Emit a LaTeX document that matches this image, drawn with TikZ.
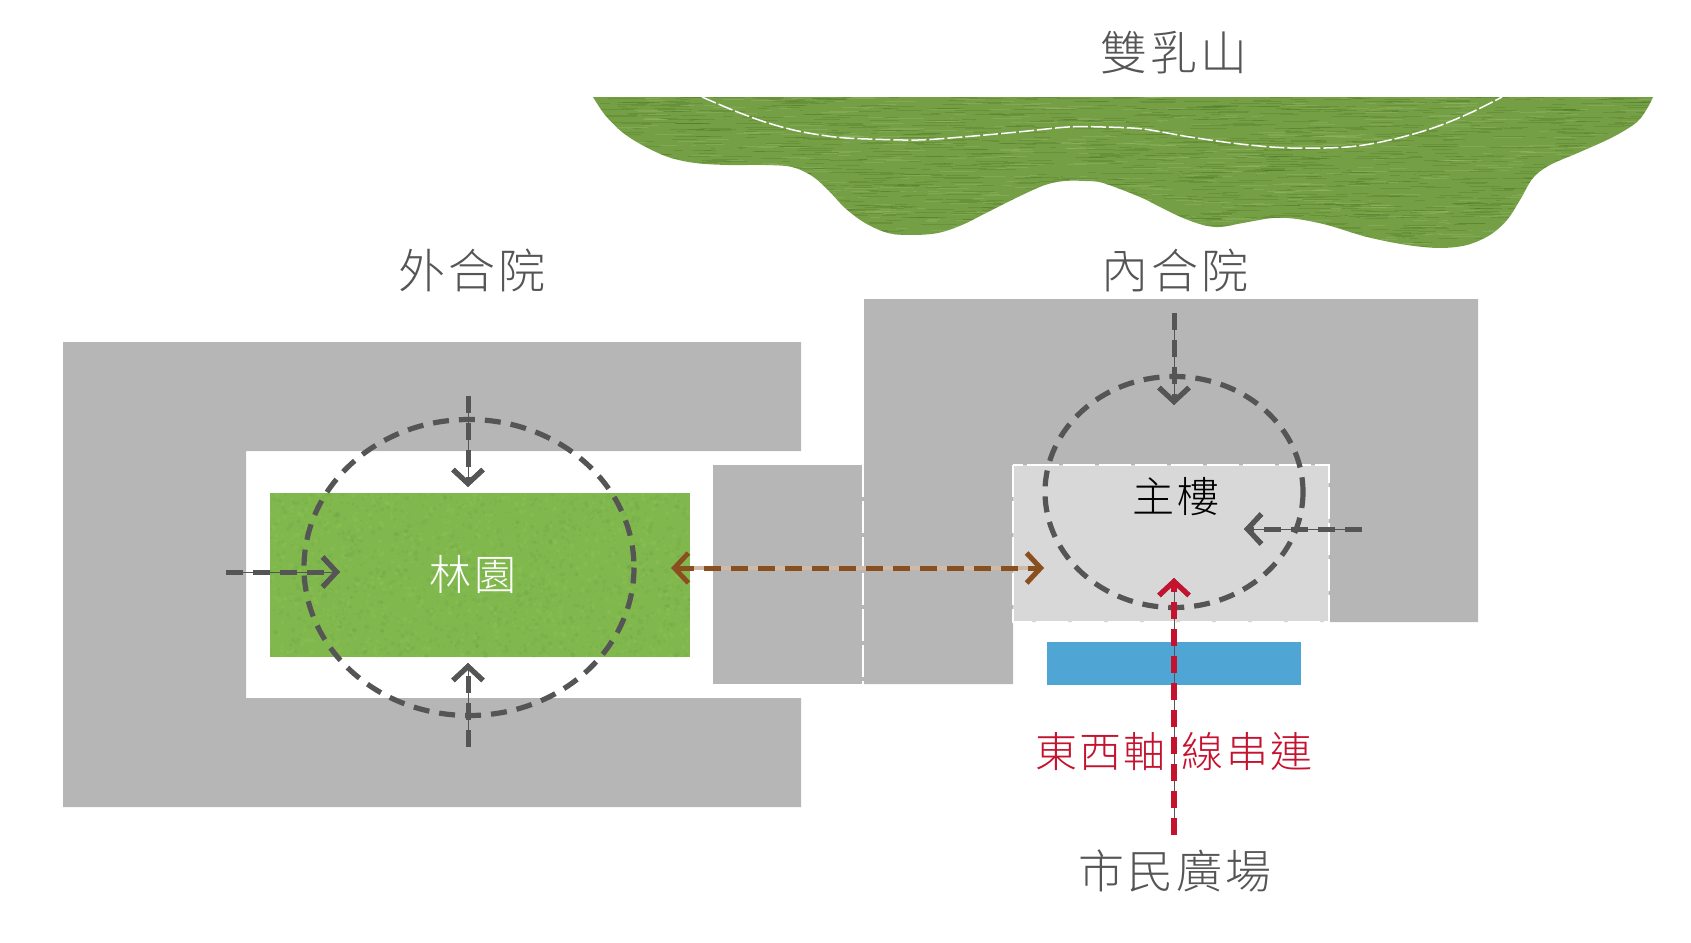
\documentclass[tikz,border=0pt]{standalone}
\usepackage{fontspec}
\setmainfont{Noto Sans CJK TC Light}
\usepackage{xcolor}
\usetikzlibrary{arrows.meta}

\definecolor{wallgray}{HTML}{B6B6B6}
\definecolor{halllight}{HTML}{D8D8D8}
\definecolor{lawngreen}{HTML}{80B84E}
\definecolor{lawndark}{HTML}{4F8F3A}
\definecolor{lawnlight}{HTML}{A9CF5C}
\definecolor{hillgreen}{HTML}{749F45}
\definecolor{hilldark}{HTML}{46711F}
\definecolor{hilllight}{HTML}{A3C27A}
\definecolor{pondblue}{HTML}{4FA5D3}
\definecolor{inkgray}{HTML}{555555}
\definecolor{axisred}{HTML}{C4122F}
\definecolor{linkbrown}{HTML}{8A4F1E}

\newcommand{\hilloutline}{(593,97) plot[smooth, tension=0.55] coordinates {(593,97) (605,115) (622,132) (642,145) (668,157) (695,163)
    (728,165) (765,165) (792,167) (812,176) (828,190) (845,208) (865,223) (888,233) (912,235)
    (938,233) (962,225) (988,212) (1018,197) (1045,185) (1065,181) (1085,181) (1103,183)
    (1140,197) (1160,207) (1183,218) (1203,225) (1220,227) (1243,223) (1273,218) (1297,219)
    (1327,225) (1367,237) (1407,245) (1440,248) (1467,245) (1490,235) (1507,220) (1520,200)
    (1533,178) (1550,165) (1580,152) (1613,137) (1637,122) (1648,107) (1653,97)} -- cycle}

\begin{document}
\begin{tikzpicture}[
  x=1pt, y=-1pt,
  label/.style={font=\fontsize{47}{55}\selectfont\addfontfeature{LetterSpace=6}, text=inkgray, inner sep=0pt},
  ring/.style={draw=inkgray, line width=5.2pt, dash pattern=on 16pt off 10pt},
  seam/.style={draw=white, line width=1.2pt, dash pattern=on 32pt off 4pt},
  barb/.style={-{Straight Barb[length=14pt,width=30pt,line width=5pt]}},
  flow/.style={line width=5pt, dash pattern=on 17pt off 10pt, barb},
  grayflow/.style={flow, draw=inkgray, preaction={draw=inkgray, solid, line width=0.8pt}},
  brownflow/.style={flow, draw=linkbrown,
                    {Straight Barb[length=14pt,width=30pt,line width=5pt]}-{Straight Barb[length=14pt,width=30pt,line width=5pt]},
                    preaction={draw=linkbrown!40!white, solid, line width=4pt}},
  redflow/.style={flow, draw=axisred, line width=6pt, preaction={draw=inkgray, solid, line width=0.8pt}}
]
\useasboundingbox (0,0) rectangle (1691,942);
\pgfmathsetseed{42}

% Hill with its streaks
\fill[hillgreen] \hilloutline;
\begin{scope}
  \clip \hilloutline;
  \foreach \i in {1,...,1500} {
    \draw[hilldark, opacity=0.28, line width=0.8pt] ({593+1060*rnd},{97+150*rnd}) -- ++({8+30*rnd},0);
  }
  \foreach \i in {1,...,700} {
    \draw[hilllight, opacity=0.28, line width=0.8pt] ({593+1060*rnd},{97+150*rnd}) -- ++({8+30*rnd},0);
  }
\end{scope}
\draw[draw=white, line width=1.5pt, dash pattern=on 15pt off 3pt]
  plot[smooth, tension=0.55] coordinates {(702,97) (735,111) (765,122) (798,131) (835,137) (868,139) (918,140) (962,137)
    (1018,132) (1068,127) (1103,127) (1143,129) (1190,137) (1240,144) (1290,148) (1347,147)
    (1390,140) (1433,128) (1470,113) (1502,97)};

% Courts and link
\fill[wallgray] (63,342) -- (801,342) -- (801,451) -- (246,451) -- (246,698) -- (801,698) -- (801,807) -- (63,807) -- cycle;
\fill[wallgray] (713,465) rectangle (864,684);
\fill[wallgray] (864,299) -- (1478,299) -- (1478,622) -- (1013,622) -- (1013,684) -- (864,684) -- cycle;
\fill[halllight] (1013,465) rectangle (1329,622);
\draw[seam] (1013,465) rectangle (1329,622);
\draw[seam] (863,465) -- (863,684);

% Lawn and pond
\fill[lawngreen] (270,493) rectangle (690,657);
\begin{scope}
  \clip (270,493) rectangle (690,657);
  \foreach \i in {1,...,1100} {
    \fill[lawndark, opacity=0.12] ({270+420*rnd},{493+164*rnd}) circle ({0.8+1.6*rnd});
    \fill[lawnlight, opacity=0.14] ({270+420*rnd},{493+164*rnd}) circle ({0.8+1.6*rnd});
  }
\end{scope}
\fill[pondblue] (1047,642) rectangle (1301,685);

% Rings
\draw[ring] (469,567.5) ellipse (165 and 148);
\draw[ring] (1174,492) ellipse (129 and 115.5);

% Ends of the arrows
\coordinate (outerNs) at (468,396);
\coordinate (outerNe) at (468,487);
\coordinate (outerSs) at (468,747);
\coordinate (outerSe) at (468,663);
\coordinate (outerWs) at (226,572);
\coordinate (outerWe) at (340,572);
\coordinate (innerNs) at (1174,313);
\coordinate (innerNe) at (1174,405);
\coordinate (innerEs) at (1362,529);
\coordinate (innerEe) at (1244,529);
\coordinate (linkW) at (671,568);
\coordinate (linkE) at (1044,568);
\coordinate (plazaS) at (1174,835);
\coordinate (plazaN) at (1174,578);

\draw[grayflow] (outerNs) -- (outerNe);
\draw[grayflow] (outerSs) -- (outerSe);
\draw[grayflow] (outerWs) -- (outerWe);
\draw[grayflow] (innerNs) -- (innerNe);
\draw[grayflow] (innerEs) -- (innerEe);
\draw[brownflow] (linkW) -- (linkE);
\draw[redflow] (plazaS) -- (plazaN);

% Labels
\node[label] (hill) at (1174,53) {雙乳山};
\node[label] (outer) at (472,270) {外合院};
\node[label] (inner) at (1175,270) {內合院};
\node[label, text=white, font=\fontsize{42}{50}\selectfont\addfontfeature{LetterSpace=6}] (lawn) at (473,575) {林園};
\node[label, text=black, font=\fontsize{42}{50}\selectfont\addfontfeature{LetterSpace=6}] (hall) at (1176,497) {主樓};
\node[label, text=axisred, font=\fontsize{42}{50}\selectfont\addfontfeature{LetterSpace=5}] (axis) at (1174,752) {東西軸\hspace{16pt}線串連};
\node[label, font=\fontsize{46}{54}\selectfont\addfontfeature{LetterSpace=7}] (plaza) at (1175,871) {市民廣場};

\end{tikzpicture}
\end{document}
